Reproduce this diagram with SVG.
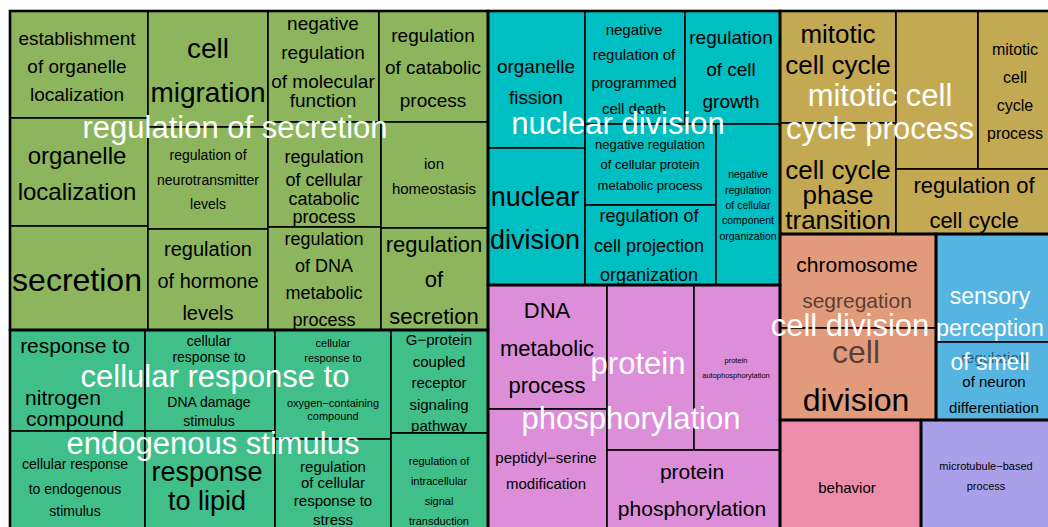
<svg xmlns="http://www.w3.org/2000/svg" width="1048" height="527" viewBox="0 0 1048 527">
<style>
rect{stroke:#000;stroke-width:1.6}
.grp{fill:none;stroke:#000;stroke-width:2.6}
text{font-family:"Liberation Sans",Arial,sans-serif;text-anchor:middle;dominant-baseline:central;fill:#000}
.w{fill:#fff}
.g1{fill:#8db55e}.g2{fill:#00bfc2}.g3{fill:#c4a953}.g4{fill:#e19a7c}.g5{fill:#55b4e0}.g6{fill:#dc8ed9}.g7{fill:#ee8dab}.g8{fill:#a9a0e9}.g9{fill:#40bf8b}
</style>
<rect x="0" y="0" width="1048" height="527" fill="#fff" style="stroke:none"/>
<g id="nodes">
<g id="n-establishment"><rect class="g1" x="10" y="11" width="138" height="107"/><text x="77" y="38" font-size="19">establishment</text><text x="77" y="66" font-size="19">of organelle</text><text x="77" y="94" font-size="19">localization</text></g>
<g id="n-organelle-localization"><rect class="g1" x="10" y="118" width="138" height="108"/><text x="77" y="155" font-size="24">organelle</text><text x="77" y="191" font-size="24">localization</text></g>
<g id="n-secretion"><rect class="g1" x="10" y="226" width="138" height="104"/><text x="77" y="280" font-size="32">secretion</text></g>
<g id="n-cell-migration"><rect class="g1" x="148" y="11" width="120" height="116"/><text x="208" y="48" font-size="28">cell</text><text x="208" y="92" font-size="28">migration</text></g>
<g id="n-reg-neurotransmitter"><rect class="g1" x="148" y="127" width="120" height="102"/><text x="208" y="155" font-size="14">regulation of</text><text x="208" y="180" font-size="14">neurotransmitter</text><text x="208" y="204" font-size="14">levels</text></g>
<g id="n-reg-hormone"><rect class="g1" x="148" y="229" width="120" height="101"/><text x="208" y="249" font-size="20">regulation</text><text x="208" y="281" font-size="20">of hormone</text><text x="208" y="313" font-size="20">levels</text></g>
<g id="n-neg-reg-molecular"><rect class="g1" x="268" y="11" width="111" height="111"/><text x="323" y="23" font-size="19">negative</text><text x="323" y="52" font-size="19">regulation</text><text x="323" y="81" font-size="19">of molecular</text><text x="323" y="100" font-size="19">function</text></g>
<g id="n-reg-cellular-catabolic"><rect class="g1" x="268" y="122" width="113" height="105"/><text x="324" y="157" font-size="18">regulation</text><text x="324" y="180" font-size="18">of cellular</text><text x="324" y="199" font-size="18">catabolic</text><text x="324" y="217" font-size="18">process</text></g>
<g id="n-reg-dna-metabolic"><rect class="g1" x="268" y="227" width="113" height="103"/><text x="324" y="239" font-size="18">regulation</text><text x="324" y="266" font-size="18">of DNA</text><text x="324" y="293" font-size="18">metabolic</text><text x="324" y="320" font-size="18">process</text></g>
<g id="n-reg-catabolic"><rect class="g1" x="379" y="11" width="109" height="111"/><text x="433" y="35" font-size="19">regulation</text><text x="433" y="67" font-size="19">of catabolic</text><text x="433" y="100" font-size="19">process</text></g>
<g id="n-ion-homeostasis"><rect class="g1" x="381" y="122" width="107" height="106"/><text x="434" y="163" font-size="15">ion</text><text x="434" y="188" font-size="15">homeostasis</text></g>
<g id="n-reg-secretion"><rect class="g1" x="381" y="228" width="107" height="102"/><text x="434" y="244" font-size="22">regulation</text><text x="434" y="279" font-size="22">of</text><text x="434" y="316" font-size="22">secretion</text></g>

<g id="n-organelle-fission"><rect class="g2" x="488" y="11" width="97" height="137"/><text x="536" y="66" font-size="19">organelle</text><text x="536" y="97" font-size="19">fission</text></g>
<g id="n-nuclear-division"><rect class="g2" x="488" y="148" width="97" height="137"/><text x="535" y="197" font-size="27">nuclear</text><text x="535" y="240" font-size="27">division</text></g>
<g id="n-neg-reg-pcd"><rect class="g2" x="585" y="11" width="100" height="113"/><text x="634" y="29" font-size="15">negative</text><text x="634" y="54" font-size="15">regulation of</text><text x="634" y="82" font-size="15">programmed</text><text x="634" y="108" font-size="15">cell death</text></g>
<g id="n-reg-cell-growth"><rect class="g2" x="685" y="11" width="95" height="113"/><text x="731" y="37" font-size="19">regulation</text><text x="731" y="69" font-size="19">of cell</text><text x="731" y="101" font-size="19">growth</text></g>
<g id="n-neg-reg-protein-metabolic"><rect class="g2" x="585" y="124" width="131" height="81"/><text x="650" y="144" font-size="13">negative regulation</text><text x="650" y="164" font-size="13">of cellular protein</text><text x="650" y="185" font-size="13">metabolic process</text></g>
<g id="n-reg-cell-projection"><rect class="g2" x="585" y="205" width="131" height="80"/><text x="649" y="216" font-size="18">regulation of</text><text x="649" y="246" font-size="18">cell projection</text><text x="649" y="275" font-size="18">organization</text></g>
<g id="n-neg-reg-component"><rect class="g2" x="716" y="124" width="64" height="161"/><text x="748" y="174" font-size="10.5">negative</text><text x="748" y="190" font-size="10.5">regulation</text><text x="748" y="205" font-size="10.5">of cellular</text><text x="748" y="220" font-size="10.5">component</text><text x="748" y="236" font-size="10.5">organization</text></g>

<g id="n-mitotic-cell-cycle"><rect class="g3" x="780" y="11" width="116" height="112"/><text x="838" y="34" font-size="26">mitotic</text><text x="838" y="65" font-size="26">cell cycle</text></g>
<g id="n-cell-cycle-phase"><rect class="g3" x="780" y="123" width="116" height="111"/><text x="838" y="170" font-size="26">cell cycle</text><text x="838" y="195" font-size="26">phase</text><text x="838" y="220" font-size="26">transition</text></g>
<g id="n-blank-gold"><rect class="g3" x="896" y="11" width="82" height="158"/></g>
<g id="n-mitotic-cell-cycle-process"><rect class="g3" x="978" y="11" width="72" height="158"/><text x="1015" y="49" font-size="16">mitotic</text><text x="1015" y="77" font-size="16">cell</text><text x="1015" y="105" font-size="16">cycle</text><text x="1015" y="133" font-size="16">process</text></g>
<g id="n-reg-cell-cycle"><rect class="g3" x="896" y="169" width="154" height="65"/><text x="974" y="185" font-size="22">regulation of</text><text x="974" y="220" font-size="22">cell cycle</text></g>

<g id="n-chromosome-segregation"><rect class="g4" x="780" y="234" width="156" height="94"/><text x="857" y="264" font-size="21">chromosome</text><text x="857" y="300" font-size="21" fill-opacity="0.62">segregation</text></g>
<g id="n-cell-division"><rect class="g4" x="780" y="328" width="156" height="92"/><text x="856" y="352" font-size="32" fill-opacity="0.62">cell</text><text x="856" y="400" font-size="32">division</text></g>

<g id="n-sensory-smell"><rect class="g5" x="936" y="234" width="114" height="108"/></g>
<g id="n-reg-neuron-diff"><rect class="g5" x="936" y="342" width="114" height="78"/><text x="994" y="357" font-size="15" fill-opacity="0.5">regulation</text><text x="994" y="381" font-size="15">of neuron</text><text x="994" y="407" font-size="15">differentiation</text></g>

<g id="n-dna-metabolic"><rect class="g6" x="488" y="285" width="119" height="124"/><text x="547" y="310" font-size="22">DNA</text><text x="547" y="348" font-size="22">metabolic</text><text x="547" y="385" font-size="22">process</text></g>
<g id="n-peptidyl-serine"><rect class="g6" x="488" y="409" width="119" height="120"/><text x="546" y="457" font-size="15">peptidyl−serine</text><text x="546" y="483" font-size="15">modification</text></g>
<g id="n-blank-pink"><rect class="g6" x="607" y="285" width="87" height="165"/></g>
<g id="n-protein-autophosphorylation"><rect class="g6" x="694" y="285" width="86" height="165"/><text x="736" y="360" font-size="7.5">protein</text><text x="736" y="375" font-size="7.5">autophosphorylation</text></g>
<g id="n-protein-phosphorylation"><rect class="g6" x="607" y="450" width="173" height="79"/><text x="692" y="471" font-size="21">protein</text><text x="692" y="508" font-size="21">phosphorylation</text></g>

<g id="n-behavior"><rect class="g7" x="780" y="420" width="141" height="109"/><text x="847" y="487" font-size="15">behavior</text></g>
<g id="n-microtubule"><rect class="g8" x="921" y="420" width="129" height="109"/><text x="986" y="466" font-size="11">microtubule−based</text><text x="986" y="486" font-size="11">process</text></g>

<g id="n-response-nitrogen"><rect class="g9" x="10" y="330" width="135" height="101"/><text x="75" y="345" font-size="21">response to</text><text x="63" y="397" font-size="21">nitrogen</text><text x="75" y="418" font-size="21">compound</text></g>
<g id="n-cellular-response-endogenous"><rect class="g9" x="10" y="431" width="135" height="98"/><text x="75" y="464" font-size="14">cellular response</text><text x="75" y="489" font-size="14">to endogenous</text><text x="75" y="511" font-size="14">stimulus</text></g>
<g id="n-cellular-response-dna-damage"><rect class="g9" x="145" y="330" width="130" height="101"/><text x="209" y="341" font-size="14">cellular</text><text x="209" y="357" font-size="14">response to</text><text x="209" y="402" font-size="14">DNA damage</text><text x="209" y="421" font-size="14">stimulus</text></g>
<g id="n-response-lipid"><rect class="g9" x="145" y="431" width="130" height="98"/><text x="207" y="472" font-size="27">response</text><text x="207" y="501" font-size="27">to lipid</text></g>
<g id="n-cellular-response-oxygen"><rect class="g9" x="275" y="330" width="116" height="109"/><text x="333" y="343" font-size="11">cellular</text><text x="333" y="358" font-size="11">response to</text><text x="333" y="403" font-size="11">oxygen−containing</text><text x="333" y="416" font-size="11">compound</text></g>
<g id="n-reg-cellular-stress"><rect class="g9" x="275" y="439" width="116" height="90"/><text x="333" y="466" font-size="15">regulation</text><text x="333" y="482" font-size="15">of cellular</text><text x="333" y="500" font-size="15">response to</text><text x="333" y="519" font-size="15">stress</text></g>
<g id="n-gpcr"><rect class="g9" x="391" y="330" width="97" height="103"/><text x="439" y="339" font-size="15">G−protein</text><text x="439" y="361" font-size="15">coupled</text><text x="439" y="382" font-size="15">receptor</text><text x="439" y="404" font-size="15">signaling</text><text x="439" y="425" font-size="15">pathway</text></g>
<g id="n-reg-intracellular"><rect class="g9" x="391" y="433" width="97" height="96"/><text x="439" y="461" font-size="11">regulation of</text><text x="439" y="481" font-size="11">intracellular</text><text x="439" y="501" font-size="11">signal</text><text x="439" y="521" font-size="11">transduction</text></g>
</g>
<g id="connectors">
<rect class="grp" x="10" y="11" width="478" height="319"/>
<rect class="grp" x="488" y="11" width="292" height="274"/>
<rect class="grp" x="780" y="11" width="270" height="223"/>
<rect class="grp" x="780" y="234" width="156" height="186"/>
<rect class="grp" x="936" y="234" width="114" height="186"/>
<rect class="grp" x="488" y="285" width="292" height="244"/>
<rect class="grp" x="10" y="330" width="478" height="199"/>
<rect class="grp" x="780" y="420" width="141" height="109"/>
<rect class="grp" x="921" y="420" width="129" height="109"/>
</g>
<g id="group-labels">
<text class="w" x="235" y="127" font-size="31">regulation of secretion</text>
<text class="w" x="618" y="123" font-size="31">nuclear division</text>
<text class="w" x="880" y="95" font-size="31">mitotic cell</text>
<text class="w" x="880" y="128" font-size="31">cycle process</text>
<text class="w" x="850" y="325" font-size="31">cell division</text>
<text class="w" x="990" y="296" font-size="23">sensory</text>
<text class="w" x="990" y="328" font-size="23">perception</text>
<text class="w" x="990" y="362" font-size="23">of smell</text>
<text class="w" x="215" y="376" font-size="31">cellular response to</text>
<text class="w" x="213" y="443" font-size="31">endogenous stimulus</text>
<text class="w" x="638" y="363" font-size="31">protein</text>
<text class="w" x="631" y="418" font-size="31">phosphorylation</text>
</g>
</svg>
